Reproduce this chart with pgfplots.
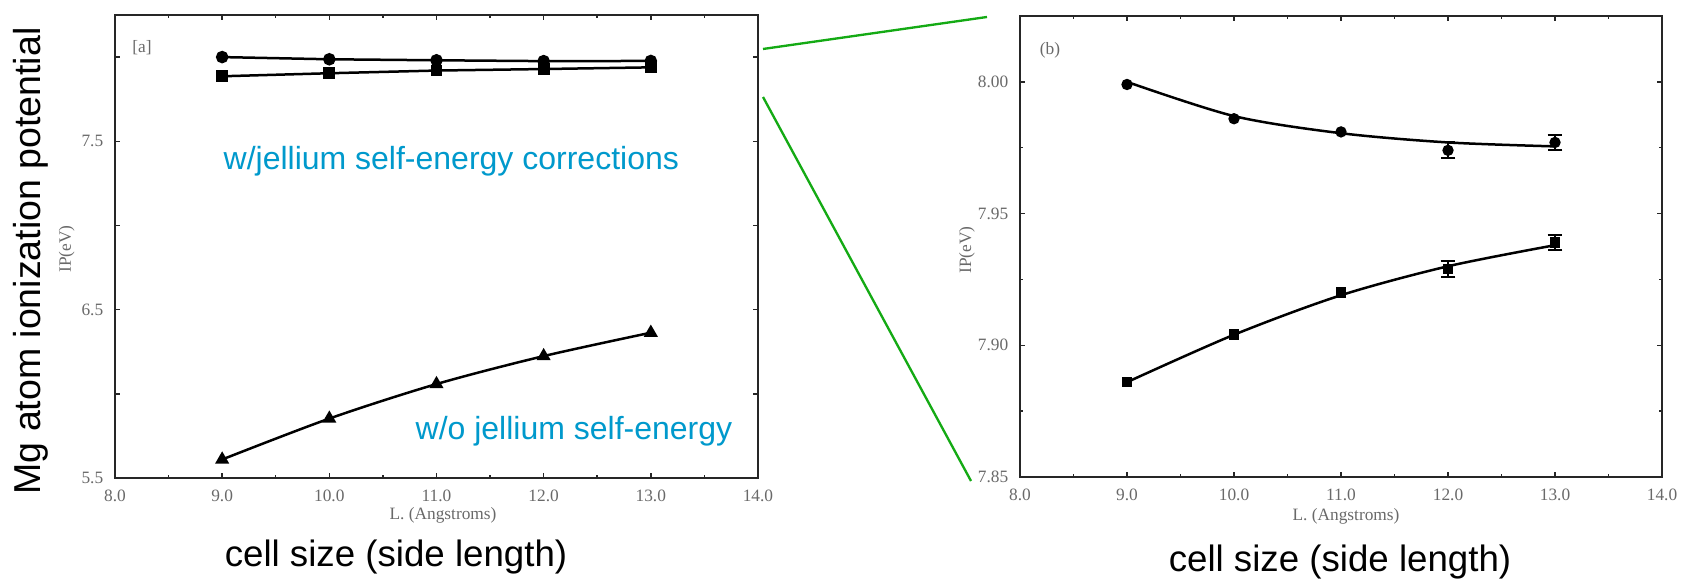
\documentclass[border=0pt]{standalone}
\usepackage{pgfplots}
\pgfplotsset{compat=1.18}
\usepackage{fontspec}
\setmainfont{Liberation Serif}
\newfontfamily\arial{Liberation Sans}
\definecolor{annblue}{RGB}{0,153,204}
\definecolor{zoomgreen}{RGB}{20,170,20}
\definecolor{tickgray}{RGB}{105,105,105}
\pgfplotsset{
  panel/.style={
    scale only axis,
    anchor=south west,
    axis line style={line width=0.65pt, black!85},
    tick style={black!85, line width=0.45pt},
    major tick length=1.4pt, minor tick length=0.9pt,
    tick align=inside,
    xtick pos=both, ytick pos=both,
    xticklabel pos=lower, yticklabel pos=left,
    xmin=8, xmax=14, xtick={8,9,...,14}, minor x tick num=1,
    ticklabel style={font=\fontsize{5.2}{6}\selectfont, text=tickgray},
    /pgf/number format/assume math mode=true,
    xticklabel={\pgfmathprintnumber[fixed,fixed zerofill,precision=1]{\tick}},
    xticklabel style={yshift=-0.2pt},
  },
  ser/.style={black, line width=0.75pt, mark size=1.5pt},
}
\begin{document}
\begin{tikzpicture}
\path[use as bounding box] (0,0) rectangle (504.9pt,174pt);

% ---------------- panel (a) ----------------
\begin{axis}[panel, at={(34.5pt,30.6pt)}, width=192.9pt, height=138.9pt,
  ymin=5.5, ymax=8.25, ytick={5.5,6,6.5,7,7.5,8},
  yticklabels={5.5,,6.5,,7.5,}]
\addplot[ser, mark=*] coordinates {(9,8.000)(10,7.987)(11,7.981)(12,7.976)(13,7.977)};
\addplot[ser, mark=square*, mark size=1.4pt] coordinates {(9,7.886)(10,7.904)(11,7.920)(12,7.929)(13,7.939)};
\addplot[ser, smooth, mark=triangle*, mark size=1.7pt] coordinates {(9,5.61)(10,5.853)(11,6.058)(12,6.224)(13,6.363)};
\end{axis}

% ---------------- panel (b) ----------------
\begin{axis}[panel, at={(306pt,30.9pt)}, width=192.6pt, height=138.3pt,
  ymin=7.85, ymax=8.025, ytick={7.85,7.90,7.95,8.00}, minor y tick num=1,
  yticklabel={\pgfmathprintnumber[fixed,fixed zerofill,precision=2]{\tick}}]
% fitted curves
\addplot[black, line width=0.75pt, smooth] coordinates {(9,8.000)(10,7.987)(11,7.9805)(12,7.977)(13,7.9755)};
\addplot[black, line width=0.75pt, smooth] coordinates {(9,7.886)(10,7.904)(11,7.919)(12,7.930)(13,7.938)};
% data points
\addplot[black, only marks, mark=*, mark size=1.5pt] coordinates {(9,7.999)(10,7.986)(11,7.981)};
\addplot[black, only marks, mark=square*, mark size=1.4pt] coordinates {(9,7.886)(10,7.904)(11,7.920)};
\addplot[black, only marks, mark=*, mark size=1.5pt,
  error bars/.cd, y dir=both, y explicit,
  error bar style={line width=0.6pt},
  error mark options={rotate=90, mark size=2.2pt, line width=0.6pt}]
  coordinates {(12,7.974) +- (0,0.003) (13,7.977) +- (0,0.003)};
\addplot[black, only marks, mark=square*, mark size=1.4pt,
  error bars/.cd, y dir=both, y explicit,
  error bar style={line width=0.6pt},
  error mark options={rotate=90, mark size=2.2pt, line width=0.6pt}]
  coordinates {(12,7.929) +- (0,0.003) (13,7.939) +- (0,0.003)};
\end{axis}

% panel tags and small axis titles
\node[text=tickgray, font=\fontsize{5.2}{6}\selectfont] at (42.6pt,159.6pt) {[a]};
\node[text=tickgray, font=\fontsize{5.2}{6}\selectfont] at (315pt,159pt) {(b)};
\node[text=tickgray, font=\fontsize{5.2}{6}\selectfont] at (132.9pt,19.5pt) {L. (Angstroms)};
\node[text=tickgray, font=\fontsize{5.2}{6}\selectfont] at (403.8pt,19.2pt) {L. (Angstroms)};
\node[text=tickgray, font=\fontsize{5.2}{6}\selectfont, rotate=90] at (20pt,99.3pt) {IP(eV)};
\node[text=tickgray, font=\fontsize{5.2}{6}\selectfont, rotate=90] at (290.1pt,99pt) {IP(eV)};

% big annotations
\node[rotate=90, font=\arial\fontsize{11.25}{12}\selectfont] at (9.3pt,95.7pt) {Mg atom ionization potential};
\node[anchor=base, font=\arial\fontsize{11}{12}\selectfont] at (118.8pt,4pt) {cell size (side length)};
\node[anchor=base, font=\arial\fontsize{11}{12}\selectfont] at (402pt,2.5pt) {cell size (side length)};
\node[anchor=base west, inner sep=0pt, text=annblue, font=\arial\fontsize{9.6}{11}\selectfont] at (66.9pt,123pt) {w/jellium self-energy corrections};
\node[anchor=base west, inner sep=0pt, text=annblue, font=\arial\fontsize{9.6}{11}\selectfont] at (124.5pt,42.3pt) {w/o jellium self-energy};

% zoom connector lines
\draw[zoomgreen, line width=0.7pt] (228.9pt,159.3pt) -- (296.1pt,168.9pt);
\draw[zoomgreen, line width=0.7pt] (228.9pt,144.9pt) -- (291.3pt,29.7pt);
\end{tikzpicture}
\end{document}
